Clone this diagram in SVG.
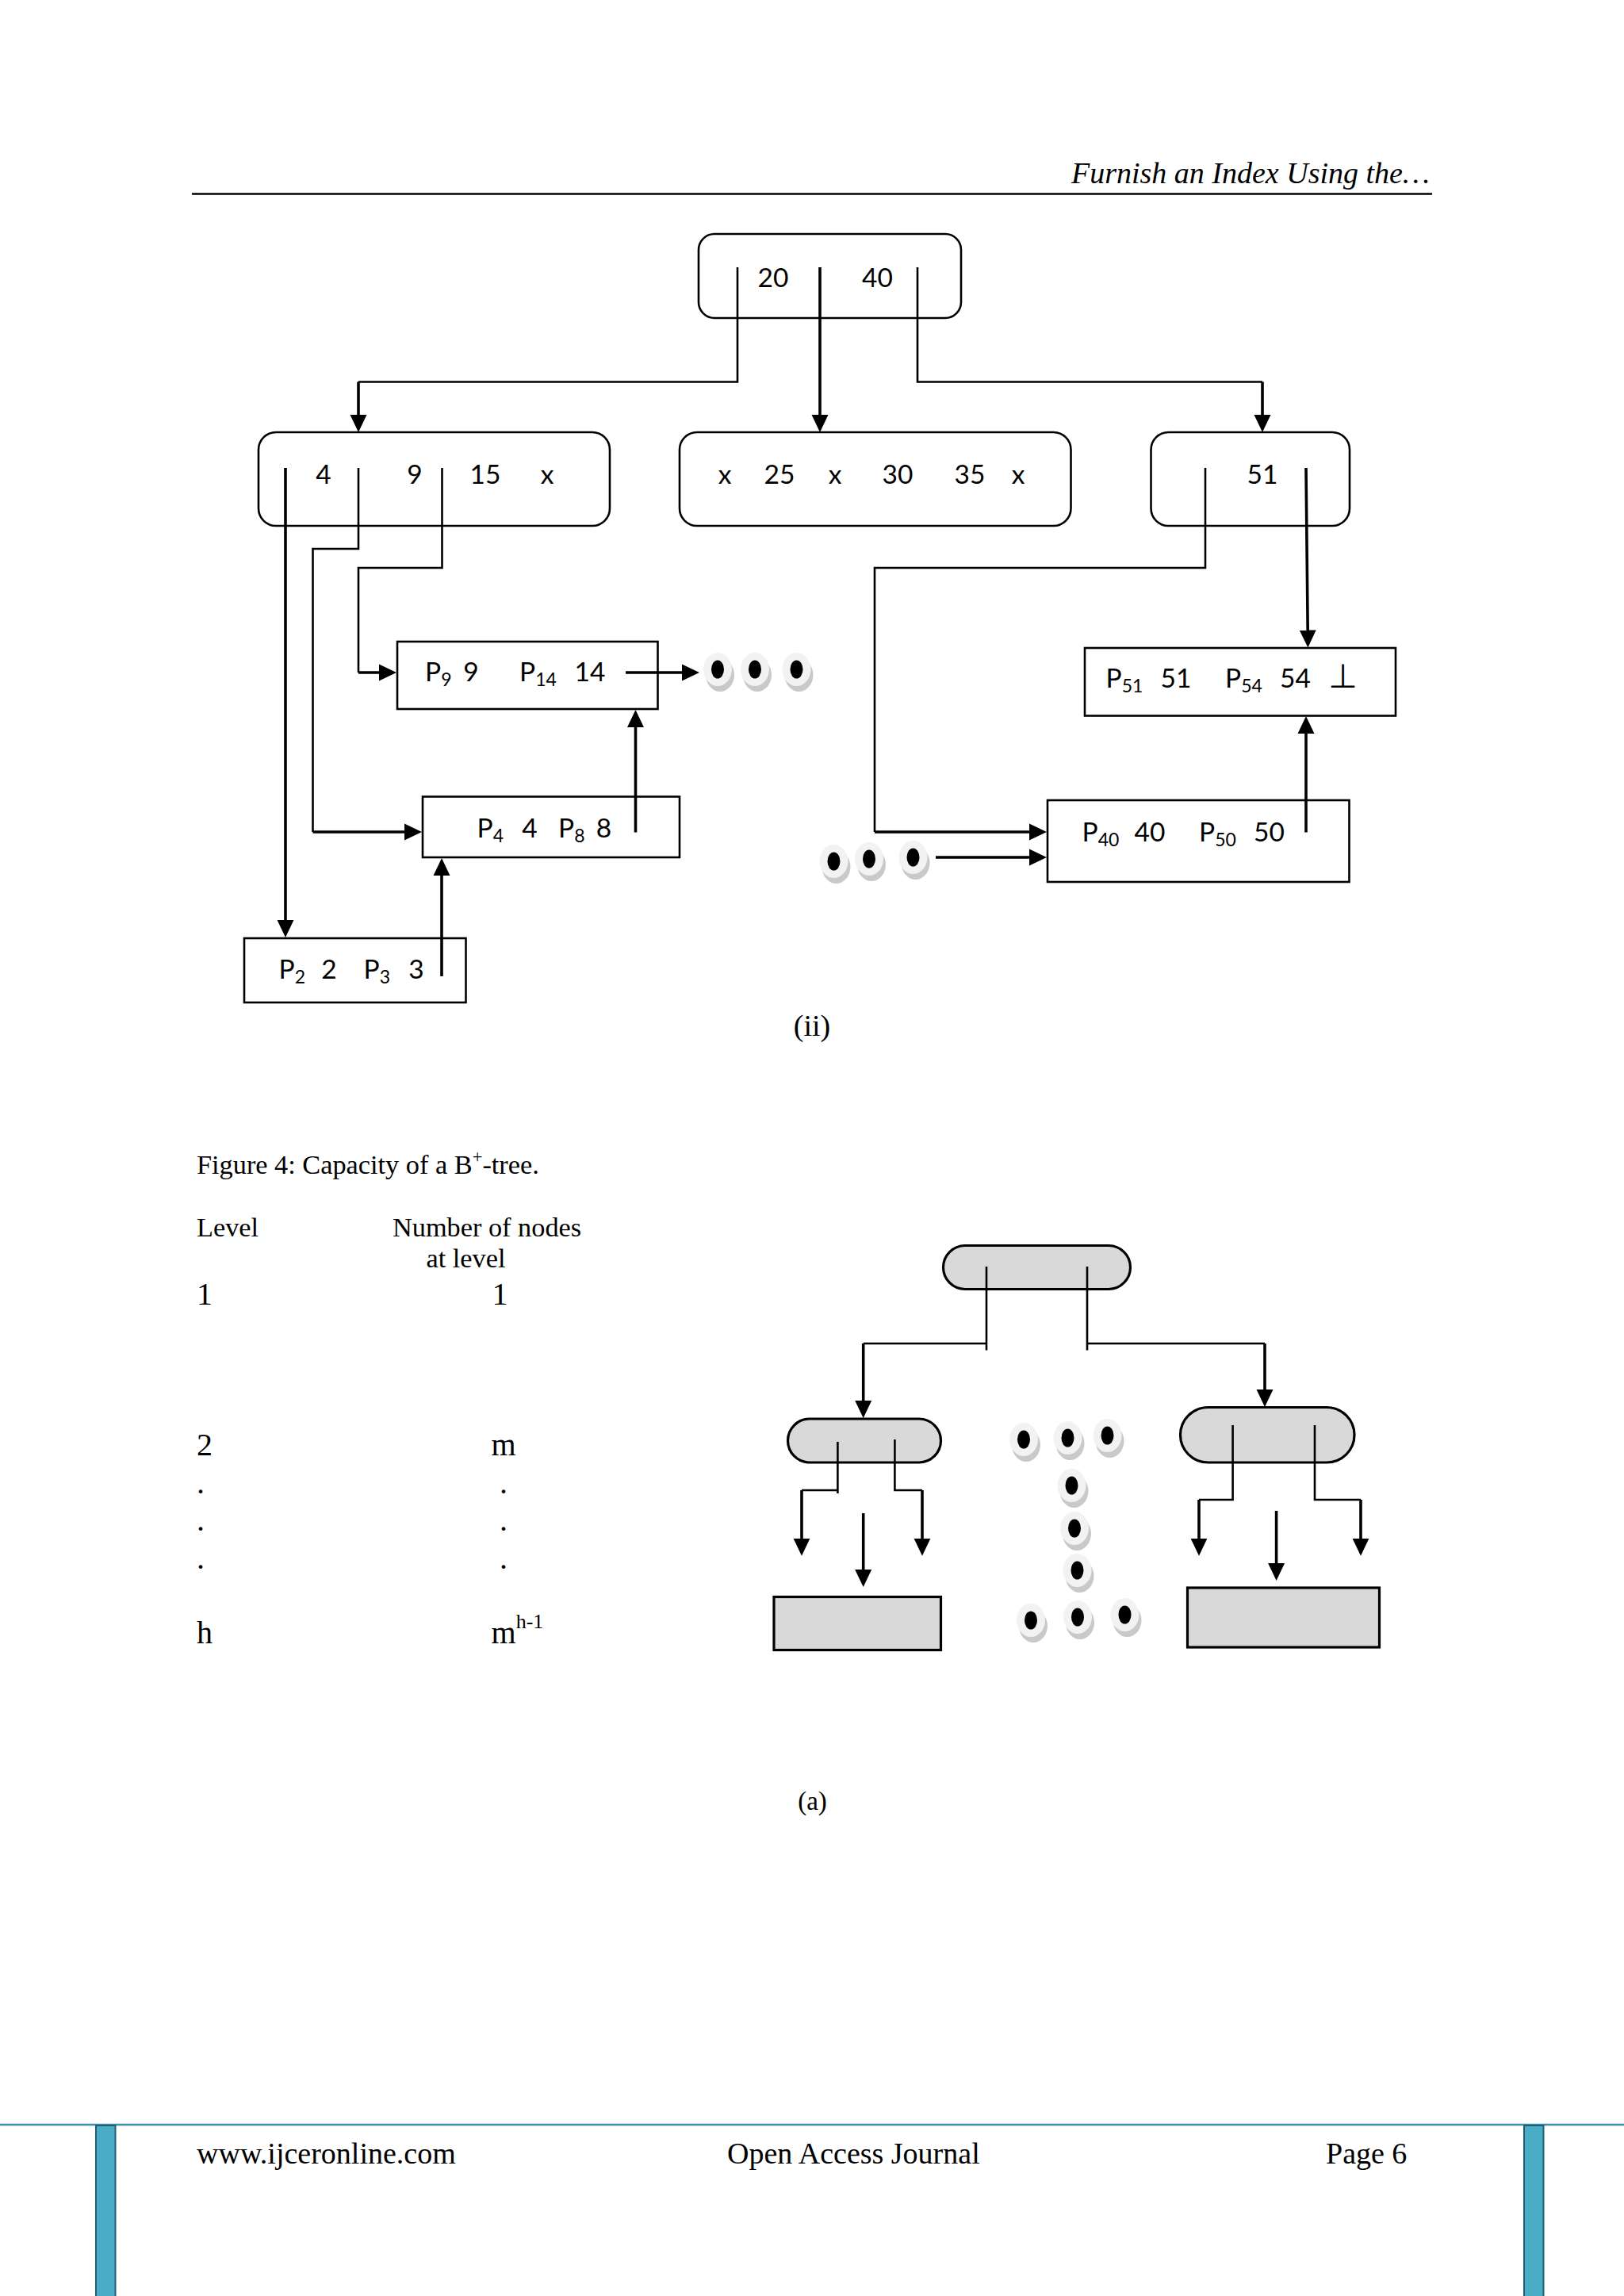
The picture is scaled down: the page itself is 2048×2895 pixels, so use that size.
<svg xmlns="http://www.w3.org/2000/svg" width="2048" height="2895" viewBox="0 0 2048 2895">
<style>
text{fill:#000}
.t{font-family:"Liberation Serif","Times New Roman",serif}
.c{font-family:Lato,"Liberation Sans",sans-serif;font-size:33.5px}
.m{text-anchor:middle}
.s{font-size:23px}
.n{fill:#fff;stroke:#000;stroke-width:2.6}
.g{fill:#d9d9d9;stroke:#000;stroke-width:3.2}
.l{fill:none;stroke:#000;stroke-width:2.6}
.a{fill:none;stroke:#000;stroke-width:3.6;marker-end:url(#ah)}
</style>
<defs>
<marker id="ah" markerUnits="userSpaceOnUse" markerWidth="23" markerHeight="22" refX="12" refY="11" orient="auto"><path d="M0,0.500L22,11L0,21.500z" fill="#000"/></marker>
<g id="eye"><ellipse cx="3" cy="7" rx="18" ry="21" fill="#c9c9c9"/><ellipse cx="0" cy="0" rx="18" ry="21" fill="#f2f2f2"/><ellipse cx="0" cy="0" rx="8" ry="11.5" fill="#000"/></g>
</defs>
<rect width="2048" height="2895" fill="#fff"/>

<g id="header">
<text class="t" x="1351" y="230.500" font-size="38" font-style="italic">Furnish an Index Using the…</text>
<line x1="242" y1="244.500" x2="1806" y2="244.500" stroke="#000" stroke-width="2.400"/>
</g>

<g id="node-root"><rect class="n" x="881" y="295" width="331" height="106" rx="20"/>
<text class="c m" x="975" y="362">20</text><text class="c m" x="1106.500" y="362">40</text></g>

<g id="node-left"><rect class="n" x="326" y="545" width="443" height="118" rx="22"/>
<text class="c m" x="408" y="610">4</text><text class="c m" x="523" y="610">9</text><text class="c m" x="612" y="610">15</text><text class="c m" x="690" y="610">x</text></g>

<g id="node-middle"><rect class="n" x="857" y="545" width="493.500" height="118" rx="22"/>
<text class="c m" x="914" y="610">x</text><text class="c m" x="983" y="610">25</text><text class="c m" x="1053" y="610">x</text><text class="c m" x="1132" y="610">30</text><text class="c m" x="1223" y="610">35</text><text class="c m" x="1284" y="610">x</text></g>

<g id="node-right"><rect class="n" x="1451.500" y="545" width="250.500" height="118" rx="22"/>
<text class="c m" x="1592" y="610">51</text></g>

<g id="leaf-p9"><rect class="n" x="501" y="809" width="328.500" height="85"/>
<text class="c" x="536" y="859">P<tspan class="s" dy="6">9</tspan></text><text class="c m" x="594" y="859">9</text><text class="c" x="655" y="859">P<tspan class="s" dy="6">14</tspan></text><text class="c m" x="744" y="859">14</text></g>

<g id="leaf-p4"><rect class="n" x="533" y="1004.500" width="324" height="76.500"/>
<text class="c" x="601.500" y="1056">P<tspan class="s" dy="6">4</tspan></text><text class="c m" x="668" y="1056">4</text><text class="c" x="704" y="1056">P<tspan class="s" dy="6">8</tspan></text><text class="c m" x="761.500" y="1056">8</text></g>

<g id="leaf-p2"><rect class="n" x="308" y="1183" width="279.500" height="81"/>
<text class="c" x="351.500" y="1234">P<tspan class="s" dy="6">2</tspan></text><text class="c m" x="415" y="1234">2</text><text class="c" x="458.500" y="1234">P<tspan class="s" dy="6">3</tspan></text><text class="c m" x="525" y="1234">3</text></g>

<g id="leaf-p51"><rect class="n" x="1368" y="817" width="392" height="85.500"/>
<text class="c" x="1394.500" y="866.500">P<tspan class="s" dy="6">51</tspan></text><text class="c m" x="1483" y="866.500">51</text><text class="c" x="1545" y="866.500">P<tspan class="s" dy="6">54</tspan></text><text class="c m" x="1633.500" y="866.500">54</text><text x="1693.500" y="867" font-size="42" text-anchor="middle" font-family="'DejaVu Sans',sans-serif">⊥</text></g>

<g id="leaf-p40"><rect class="n" x="1321" y="1009" width="380.500" height="103"/>
<text class="c" x="1364.500" y="1061">P<tspan class="s" dy="6">40</tspan></text><text class="c m" x="1450" y="1061">40</text><text class="c" x="1512" y="1061">P<tspan class="s" dy="6">50</tspan></text><text class="c m" x="1600.500" y="1061">50</text></g>

<g id="ellipsis-upper">
<use href="#eye" x="905" y="844"/><use href="#eye" x="952" y="844"/><use href="#eye" x="1004.500" y="844"/>
<use href="#eye" x="1051.500" y="1086"/><use href="#eye" x="1096" y="1083"/><use href="#eye" x="1151.500" y="1081"/>
</g>

<text class="t m" x="1024" y="1306" font-size="38">(ii)</text>

<g id="table">
<text class="t" x="248" y="1479.500" font-size="34.300">Figure 4: Capacity of a B<tspan font-size="22.500" dy="-14">+</tspan><tspan dy="14">-tree.</tspan></text>
<text class="t" x="248" y="1559" font-size="34.300">Level</text>
<text class="t" x="495" y="1559" font-size="34.300">Number of nodes</text>
<text class="t" x="537.500" y="1598" font-size="34.300">at level</text>
<text class="t" x="248" y="1645" font-size="40">1</text><text class="t" x="620.500" y="1645" font-size="40">1</text>
<text class="t" x="248" y="1835" font-size="40">2</text><text class="t" x="619.500" y="1835" font-size="40">m</text>
<text class="t" x="248" y="1883" font-size="40">.</text><text class="t" x="630" y="1883" font-size="40">.</text>
<text class="t" x="248" y="1930" font-size="40">.</text><text class="t" x="630" y="1930" font-size="40">.</text>
<text class="t" x="248" y="1978" font-size="40">.</text><text class="t" x="630" y="1978" font-size="40">.</text>
<text class="t" x="248" y="2072" font-size="40">h</text><text class="t" x="619.500" y="2072" font-size="40">m<tspan font-size="26" dy="-19">h-1</tspan></text>
</g>

<g id="cap-root"><rect class="g" x="1189.500" y="1570.500" width="236" height="55" rx="27.500"/></g>
<g id="cap-left"><rect class="g" x="993.500" y="1789" width="193" height="55" rx="27.500"/></g>
<g id="cap-right"><rect class="g" x="1488.500" y="1774.500" width="219.500" height="69.500" rx="35"/></g>
<g id="cap-leaf-left"><rect class="g" x="976" y="2013.500" width="210.500" height="67"/></g>
<g id="cap-leaf-right"><rect class="g" x="1497.500" y="2002" width="242" height="75"/></g>

<g id="ellipsis-lower">
<use href="#eye" x="1291" y="1815"/><use href="#eye" x="1346.500" y="1813"/><use href="#eye" x="1396.500" y="1810"/>
<use href="#eye" x="1351.500" y="1873"/><use href="#eye" x="1355" y="1927"/><use href="#eye" x="1358.500" y="1980"/>
<use href="#eye" x="1300" y="2043"/><use href="#eye" x="1359" y="2039"/><use href="#eye" x="1418.500" y="2036"/>
</g>

<text class="t m" x="1024.500" y="2282" font-size="33">(a)</text>

<g id="connectors">
<path class="l" d="M930,337V481.500H452"/><path class="a" d="M452,481.500V535"/>
<path class="a" d="M1034,337V535"/>
<path class="l" d="M1157,337V481.500H1592"/><path class="a" d="M1592,481.500V535"/>
<path class="a" d="M360,590V1172"/>
<path class="l" d="M452,590V692H394.500V1049"/><path class="a" d="M394.500,1049H522"/>
<path class="l" d="M557.500,590V716H452V848"/><path class="a" d="M452,848H490"/>
<path class="a" d="M789,848H872"/>
<path class="a" d="M801.500,1049.500V905"/>
<path class="a" d="M557,1231V1092"/>
<path class="l" d="M1520,590V716H1103V1049"/><path class="a" d="M1103,1049H1310"/>
<path class="a" d="M1647,590L1649.300,806.500"/>
<path class="a" d="M1647,1049.500V913"/>
<path class="a" d="M1180,1081H1310"/>
<path class="l" d="M1244,1597V1702.500M1244,1694H1088.700"/><path class="a" d="M1088.700,1694V1778"/>
<path class="l" d="M1371,1597V1702.500M1371,1694H1595"/><path class="a" d="M1595,1694V1764"/>
<path class="l" d="M1056.400,1818V1883M1056.400,1879H1011"/><path class="a" d="M1011,1879V1951.700"/>
<path class="l" d="M1128.400,1815V1879H1163"/><path class="a" d="M1163,1879V1951.700"/>
<path class="a" d="M1088.700,1908V1991"/>
<path class="l" d="M1554.600,1797V1891H1512"/><path class="a" d="M1512,1891V1951.700"/>
<path class="l" d="M1658,1797V1891H1716"/><path class="a" d="M1716,1891V1951.700"/>
<path class="a" d="M1609.600,1905V1983"/>
</g>

<g id="footer">
<line x1="0" y1="2679" x2="2048" y2="2679" stroke="#3f8ea8" stroke-width="2.600"/>
<rect x="121" y="2680" width="24.500" height="220" fill="#4bacc6" stroke="#215e73" stroke-width="2"/>
<rect x="1922" y="2680" width="24.500" height="220" fill="#4bacc6" stroke="#215e73" stroke-width="2"/>
<text class="t" x="248" y="2728" font-size="38">www.ijceronline.com</text>
<text class="t" x="917" y="2728" font-size="38">Open Access Journal</text>
<text class="t" x="1672" y="2728" font-size="38">Page 6</text>
</g>
</svg>
